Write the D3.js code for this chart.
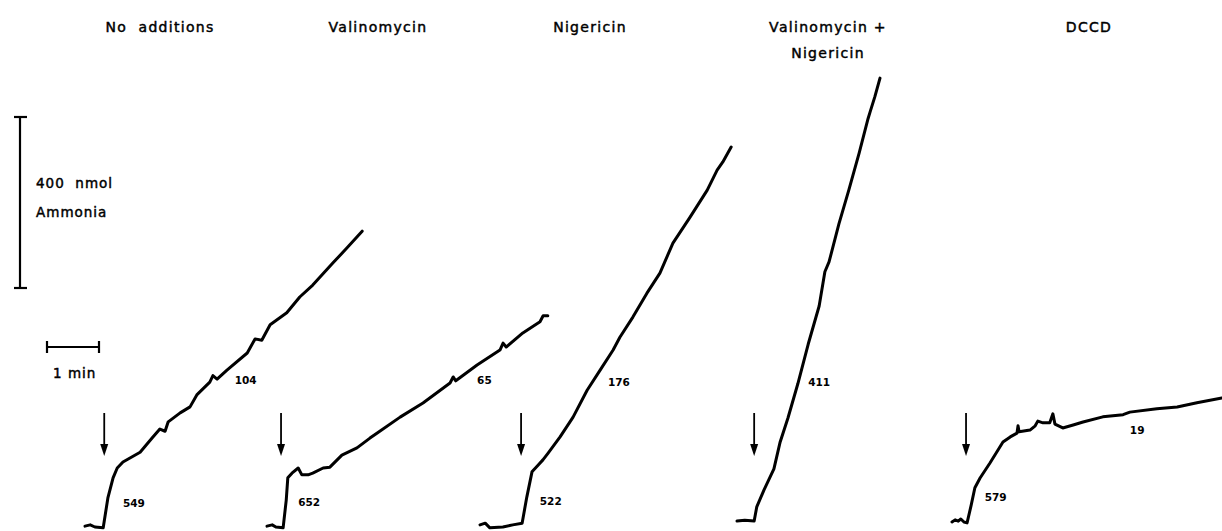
<!DOCTYPE html>
<html>
<head>
<meta charset="utf-8">
<script src="https://cdn.jsdelivr.net/npm/d3@7"></script>
<style>
  body { margin: 0; background: #fff; }
  text { font-family: "DejaVu Sans", sans-serif; fill: #000; white-space: pre; }
  .lab { stroke: #000; stroke-width: 0.45; }
</style>
</head>
<body>
<svg id="chart" width="1222" height="531"></svg>
<script>
// panel titles and rate labels (nmol ammonia / min / mg)
const titles = [["No  additions"], ["Valinomycin"], ["Nigericin"], ["Valinomycin +", "Nigericin"], ["DCCD"]];
const initialRates = [549, 652, 522, null, 579];
const steadyRates = [104, 65, 176, 411, 19];
// time of addition (arrow), min after start of trace
const additionTimes = [0.37, 0.27, 0.79, 0.33, 0.27];

// traces: [min, nmol ammonia above baseline]
const trace1 = [[0,2],[0.10,5],[0.19,0],[0.35,-2],[0.44,68],[0.54,115],[0.62,138],[0.73,152],[1.06,175],[1.29,208],
  [1.44,229],[1.54,224],[1.60,246],[1.83,267],[2.02,281],[2.15,309],[2.40,339],[2.46,354],[2.54,346],[2.73,367],
  [3.12,407],[3.27,440],[3.40,437],[3.56,473],[3.88,501],[4.13,538],[4.38,566],[4.77,618],[5.04,653],[5.33,692]];
const trace2 = [[0,2],[0.10,5],[0.17,0],[0.31,-2],[0.37,63],[0.40,115],[0.48,126],[0.60,138],[0.67,122],[0.79,122],
  [0.88,126],[1.08,138],[1.21,140],[1.44,168],[1.73,185],[1.98,208],[2.12,220],[2.56,257],[3.00,290],[3.52,337],
  [3.58,351],[3.63,342],[4.04,379],[4.48,414],[4.54,430],[4.60,421],[4.92,454],[5.25,480],[5.31,494],[5.40,494]];
const trace3 = [[0,5],[0.10,9],[0.19,-2],[0.44,0],[0.63,5],[0.81,9],[0.90,70],[1.00,129],[1.12,145],[1.21,157],
  [1.31,173],[1.54,211],[1.79,257],[2.06,320],[2.31,367],[2.56,414],[2.69,444],[2.94,491],[3.21,547],[3.46,594],
  [3.71,664],[4.04,725],[4.37,788],[4.56,835],[4.67,854],[4.83,889]];
const trace4 = [[0,0],[0.15,2],[0.33,0],[0.38,33],[0.52,73],[0.71,122],[0.83,185],[0.98,241],[1.17,321],[1.37,414],
  [1.58,503],[1.69,583],[1.77,606],[1.96,695],[2.15,774],[2.35,861],[2.52,941],[2.56,957],[2.65,992],[2.75,1036]];
const trace5 = [[0,0],[0.06,5],[0.12,2],[0.17,7],[0.23,0],[0.29,-2],[0.37,40],[0.44,80],[0.54,103],[0.73,138],
  [0.98,187],[1.12,199],[1.25,208],[1.27,225],[1.29,211],[1.50,215],[1.60,225],[1.65,236],[1.75,232],[1.88,232],
  [1.94,253],[1.98,229],[2.13,220],[2.33,227],[2.52,234],[2.90,246],[3.29,251],[3.42,257],[3.94,265],[4.33,269],
  [4.71,279],[5.19,290]];
const traces = [trace1, trace2, trace3, trace4, trace5];

// layout
const pxPerMin = 52, pxPer400 = 171;
const panelX0 = [85, 267, 480, 737, 952];
const panelBase = [527, 527, 527, 521, 522];
const titleX = [160, 378, 590, 828, 1089];
const initialLabelPos = [[0.73,56],[0.60,58],[1.15,61],null,[0.63,58]];
const steadyLabelPos = [[2.88,344],[4.04,344],[2.46,339],[1.37,325],[3.42,215]];

const svg = d3.select('#chart');

// titles
titles.forEach((lines, i) => {
  lines.forEach((t, j) => {
    svg.append('text')
      .attr('class', 'lab')
      .attr('x', titleX[i]).attr('y', 32 + j * 26)
      .attr('text-anchor', 'middle')
      .attr('font-size', 14)
      .attr('letter-spacing', 1.3)
      .text(t);
  });
});

// panels
traces.forEach((data, i) => {
  const x = d3.scaleLinear().domain([0, 1]).range([panelX0[i], panelX0[i] + pxPerMin]);
  const y = d3.scaleLinear().domain([0, 400]).range([panelBase[i], panelBase[i] - pxPer400]);
  const line = d3.line().x(d => x(d[0])).y(d => y(d[1]));

  const g = svg.append('g');
  g.append('path')
    .datum(data)
    .attr('d', line)
    .attr('fill', 'none')
    .attr('stroke', '#000')
    .attr('stroke-width', 3)
    .attr('stroke-linejoin', 'round')
    .attr('stroke-linecap', 'round');

  // addition arrow
  const ax = x(additionTimes[i]);
  g.append('line')
    .attr('x1', ax).attr('x2', ax)
    .attr('y1', 413).attr('y2', 446)
    .attr('stroke', '#000').attr('stroke-width', 1.8);
  g.append('path')
    .attr('d', `M${ax - 4},444 L${ax + 4},444 L${ax},456 Z`)
    .attr('fill', '#000');

  if (initialRates[i] !== null) {
    g.append('text')
      .attr('x', x(initialLabelPos[i][0])).attr('y', y(initialLabelPos[i][1]) + 4)
      .attr('font-size', 10.5).attr('font-weight', 'bold')
      .text(initialRates[i]);
  }
  g.append('text')
    .attr('x', x(steadyLabelPos[i][0])).attr('y', y(steadyLabelPos[i][1]) + 4)
    .attr('font-size', 10.5).attr('font-weight', 'bold')
    .text(steadyRates[i]);
});

// scale bars
const sy = d3.scaleLinear().domain([0, 400]).range([288, 288 - pxPer400]);
const sb = svg.append('g').attr('stroke', '#000').attr('stroke-width', 2.2);
sb.append('line').attr('x1', 20).attr('x2', 20).attr('y1', sy(0)).attr('y2', sy(400));
sb.append('line').attr('x1', 14).attr('x2', 27).attr('y1', sy(0)).attr('y2', sy(0));
sb.append('line').attr('x1', 14).attr('x2', 27).attr('y1', sy(400)).attr('y2', sy(400));
svg.append('text').attr('class', 'lab').attr('x', 36).attr('y', 188).attr('font-size', 13.5).attr('letter-spacing', 1).text('400  nmol');
svg.append('text').attr('class', 'lab').attr('x', 36).attr('y', 217).attr('font-size', 13.5).attr('letter-spacing', 1).text('Ammonia');

const sx = d3.scaleLinear().domain([0, 1]).range([47, 47 + pxPerMin]);
sb.append('line').attr('x1', sx(0)).attr('x2', sx(1)).attr('y1', 347).attr('y2', 347);
sb.append('line').attr('x1', sx(0)).attr('x2', sx(0)).attr('y1', 341).attr('y2', 353);
sb.append('line').attr('x1', sx(1)).attr('x2', sx(1)).attr('y1', 341).attr('y2', 353);
svg.append('text').attr('class', 'lab').attr('x', 53).attr('y', 378).attr('font-size', 13.5).attr('letter-spacing', 1).text('1 min');
</script>
</body>
</html>
